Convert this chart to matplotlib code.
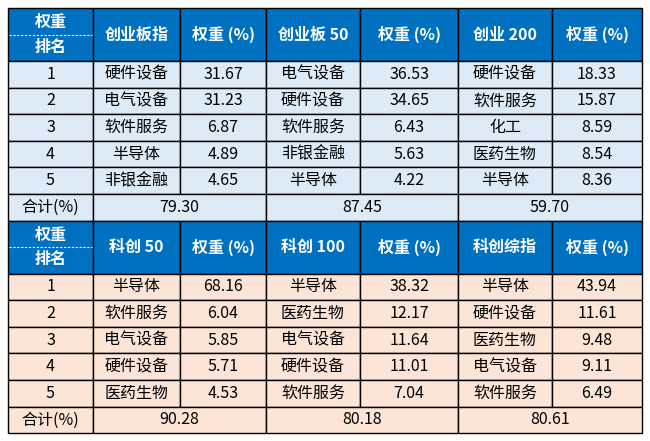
import matplotlib
matplotlib.use("Agg")
import matplotlib.pyplot as plt
from matplotlib.patches import Rectangle

plt.rcParams['font.family'] = ['Noto Sans CJK SC', 'DejaVu Sans']

ranks = ["1", "2", "3", "4", "5"]
top_idx = ["创业板指", "创业板 50", "创业 200"]
top_ind = [["硬件设备", "电气设备", "软件服务", "半导体", "非银金融"],
           ["电气设备", "硬件设备", "软件服务", "非银金融", "半导体"],
           ["硬件设备", "软件服务", "化工", "医药生物", "半导体"]]
top_w = [["31.67", "31.23", "6.87", "4.89", "4.65"],
         ["36.53", "34.65", "6.43", "5.63", "4.22"],
         ["18.33", "15.87", "8.59", "8.54", "8.36"]]
top_tot = ["79.30", "87.45", "59.70"]
bot_idx = ["科创 50", "科创 100", "科创综指"]
bot_ind = [["半导体", "软件服务", "电气设备", "硬件设备", "医药生物"],
           ["半导体", "医药生物", "电气设备", "硬件设备", "软件服务"],
           ["半导体", "硬件设备", "医药生物", "电气设备", "软件服务"]]
bot_w = [["68.16", "6.04", "5.85", "5.71", "4.53"],
         ["38.32", "12.17", "11.64", "11.01", "7.04"],
         ["43.94", "11.61", "9.48", "9.11", "6.49"]]
bot_tot = ["90.28", "80.18", "80.61"]

fig = plt.figure(figsize=(6.5, 4.41), dpi=100)
ax = fig.add_axes([0, 0, 1, 1])
ax.set_xlim(0, 650); ax.set_ylim(441, 0); ax.axis('off')

cols = [8, 93, 180, 266, 360, 458, 552, 642]
HEAD = "#0070C0"
fs = 11.5

def cell(x0, x1, y0, y1, fc, txt, color="black", bold=False):
    ax.add_patch(Rectangle((x0, y0), x1 - x0, y1 - y0, facecolor=fc, edgecolor="black", lw=1.0))
    if txt:
        ax.text((x0 + x1) / 2, (y0 + y1) / 2, txt, ha="center", va="center", fontsize=fs,
                color=color, fontweight="bold" if bold else "normal")

def block(y0, idx, ind, w, tot, body):
    hh = 53; rh = 26.6
    y1 = y0 + hh
    cell(cols[0], cols[1], y0, y1, HEAD, None)
    ax.text((cols[0] + cols[1]) / 2, y0 + hh * 0.27, "权重", ha="center", va="center", color="white", fontsize=fs, fontweight="bold")
    ax.text((cols[0] + cols[1]) / 2, y0 + hh * 0.73, "排名", ha="center", va="center", color="white", fontsize=fs, fontweight="bold")
    ax.plot([cols[0] + 1, cols[1] - 1], [y0 + hh / 2] * 2, color="white", lw=0.8, ls=(0, (2, 1.5)))
    for k in range(3):
        cell(cols[1 + 2 * k], cols[2 + 2 * k], y0, y1, HEAD, idx[k], "white", True)
        cell(cols[2 + 2 * k], cols[3 + 2 * k], y0, y1, HEAD, "权重 (%)", "white", True)
    for r in range(5):
        ya = y1 + r * rh; yb = ya + rh
        cell(cols[0], cols[1], ya, yb, body, ranks[r])
        for k in range(3):
            cell(cols[1 + 2 * k], cols[2 + 2 * k], ya, yb, body, ind[k][r])
            cell(cols[2 + 2 * k], cols[3 + 2 * k], ya, yb, body, w[k][r])
    ya = y1 + 5 * rh; yb = ya + rh
    cell(cols[0], cols[1], ya, yb, body, "合计(%)")
    spans = [(cols[1], cols[3]), (cols[3], cols[5]), (cols[5], cols[7])]
    for k, (a, b) in enumerate(spans):
        cell(a, b, ya, yb, body, tot[k])
    return yb

yend = block(8, top_idx, top_ind, top_w, top_tot, "#DDEBF7")
block(yend, bot_idx, bot_ind, bot_w, bot_tot, "#FCE4D6")

fig.savefig("out.png", dpi=100)
